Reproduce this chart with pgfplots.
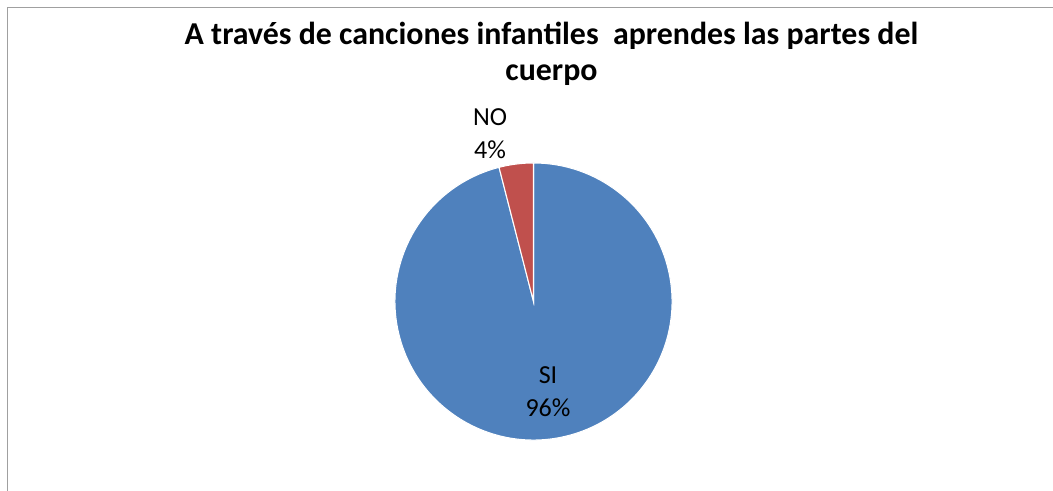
\documentclass[border=0pt]{standalone}
\usepackage{pgfplots}
\usepackage{pgfplotstable}
\pgfplotsset{compat=1.18}
\usepackage{fontspec}
\setmainfont{Carlito}
\definecolor{siblue}{HTML}{4F81BD}
\definecolor{nored}{HTML}{C0504D}
\definecolor{framegray}{HTML}{A0A0A0}
\pgfplotstableread{
label value
SI 96
NO 4
}\piedata
\begin{document}
\begin{tikzpicture}
\pgfplotstablegetelem{0}{value}\of\piedata \let\vSI\pgfplotsretval
\pgfplotstablegetelem{1}{value}\of\piedata \let\vNO\pgfplotsretval
\pgfmathsetmacro{\total}{\vSI+\vNO}
\pgfmathsetmacro{\aNO}{90+360*\vNO/\total}
\pgfmathtruncatemacro{\pNO}{round(100*\vNO/\total)}
\pgfmathtruncatemacro{\pSI}{round(100*\vSI/\total)}
\begin{axis}[hide axis, scale only axis, width=789.75pt, height=367.5pt,
  xmin=0, xmax=1053, ymin=-490, ymax=0, clip=false,
  anchor=south west, at={(0,0)}]
\addplot[draw=none, forget plot] coordinates {(0,-490) (1053,0)};
% frame
\draw[framegray, line width=1.4pt] (axis cs:7.5,-492) -- (axis cs:7.5,-7.5) -- (axis cs:1055,-7.5);
% slices
\fill[siblue, draw=white, line width=0.8pt] (axis cs:533.5,-301.5) -- ++(\aNO:103.9pt)
  arc[start angle=\aNO, end angle=450, radius=103.9pt] -- cycle;
\fill[nored, draw=white, line width=0.8pt] (axis cs:533.5,-301.5) -- ++(90:103.9pt)
  arc[start angle=90, end angle=\aNO, radius=103.9pt] -- cycle;
% title
\node[font=\fontsize{23.9}{27}\selectfont\bfseries, align=center] at (axis cs:551.5,-54)
  {A través de canciones infantiles~ aprendes las partes del\\cuerpo};
% labels
\node[font=\fontsize{19.5}{24.75}\selectfont, align=center] at (axis cs:490,-133.5) {NO\\\pNO\%};
\node[font=\fontsize{19.5}{24.75}\selectfont, align=center] at (axis cs:548,-392) {SI\\\pSI\%};
\end{axis}
\pgfresetboundingbox
\useasboundingbox (0,0) rectangle (789.75pt,367.5pt);
\end{tikzpicture}
\end{document}
